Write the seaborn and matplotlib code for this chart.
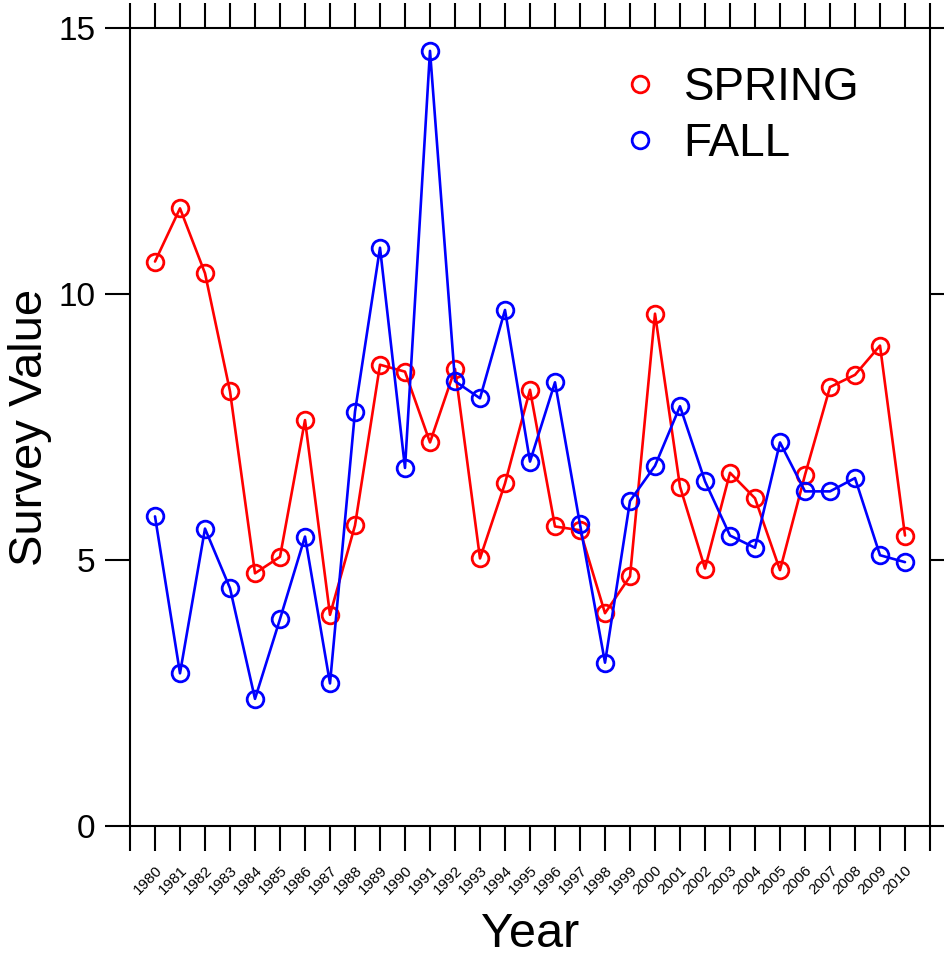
import matplotlib
matplotlib.use("Agg")
import matplotlib.pyplot as plt
from matplotlib.lines import Line2D
import seaborn as sns
import pandas as pd

# ---- data ----
years = list(range(1980, 2011))
spring = [10.61, 11.61, 10.39, 8.17, 4.75, 5.06, 7.63, 3.97, 5.65, 8.67,
          8.54, 7.21, 8.59, 5.03, 6.44, 8.20, 5.63, 5.56, 4.00, 4.69,
          9.63, 6.38, 4.84, 6.64, 6.16, 4.81, 6.60, 8.25, 8.48, 9.03,
          5.46]
fall = [5.82, 2.87, 5.59, 4.47, 2.39, 3.89, 5.44, 2.68, 7.79, 10.87,
        6.73, 14.57, 8.36, 8.04, 9.70, 6.85, 8.34, 5.67, 3.07, 6.11,
        6.77, 7.89, 6.48, 5.46, 5.23, 7.21, 6.29, 6.29, 6.54, 5.09,
        4.96]
series_names = ["SPRING", "FALL"]
series_colors = ["red", "blue"]

df = pd.DataFrame({"year": years, "SPRING": spring, "FALL": fall})

# plain black axes and text
sns.set_style("ticks", {"axes.edgecolor": "black", "xtick.color": "black",
                        "ytick.color": "black", "text.color": "black",
                        "axes.labelcolor": "black"})
plt.rcParams["font.family"] = ["Liberation Sans", "DejaVu Sans"]

fig = plt.figure(figsize=(9.44, 9.66), dpi=100)
ax = fig.add_axes([130 / 944, 1 - 826 / 966, 800 / 944, 798 / 966])

for name, col in zip(series_names, series_colors):
    sns.lineplot(data=df, x="year", y=name, ax=ax, color=col, linewidth=1.9,
                 marker="o", markersize=12, markerfacecolor="none",
                 markeredgecolor=col, markeredgewidth=2.0)

ax.set_xlim(1979, 2011)
ax.set_ylim(0, 15)

# x ticks every year, labels only for the data years
tick_years = list(range(1979, 2012))
ax.set_xticks(tick_years)
ax.set_xticklabels([str(y) if y in years else "" for y in tick_years],
                   rotation=45, ha="right", va="top", rotation_mode="anchor",
                   fontsize=11)
ax.set_yticks([0, 5, 10, 15])
ax.set_yticklabels(["0", "5", "10", "15"], fontsize=24)

ax.tick_params(axis="x", direction="out", length=18, width=1.5, pad=9,
               top=True, bottom=True, colors="black")
ax.tick_params(axis="y", direction="out", length=18, width=1.5, pad=7,
               left=True, right=True, colors="black")
for sp in ax.spines.values():
    sp.set_visible(True)
    sp.set_linewidth(1.5)
    sp.set_color("black")

ax.set_xlabel("Year", fontsize=35, color="black")
ax.set_ylabel("Survey Value", fontsize=34, color="black")
ax.xaxis.set_label_coords(0.5, -0.108)
ax.yaxis.set_label_coords(-0.097, 0.5)

handles = [Line2D([], [], linestyle="none", marker="o", markersize=12,
                  markerfacecolor="none", markeredgecolor=c,
                  markeredgewidth=2.0) for c in series_colors]
leg = ax.legend(handles, series_names, loc="upper left",
                bbox_to_anchor=(0.609, 0.952), frameon=False, fontsize=33,
                handlelength=1.0, handletextpad=0.45, labelspacing=0.25,
                borderpad=0, borderaxespad=0)
for t in leg.get_texts():
    t.set_color("black")

fig.savefig("out.png", dpi=100)
plt.close(fig)
